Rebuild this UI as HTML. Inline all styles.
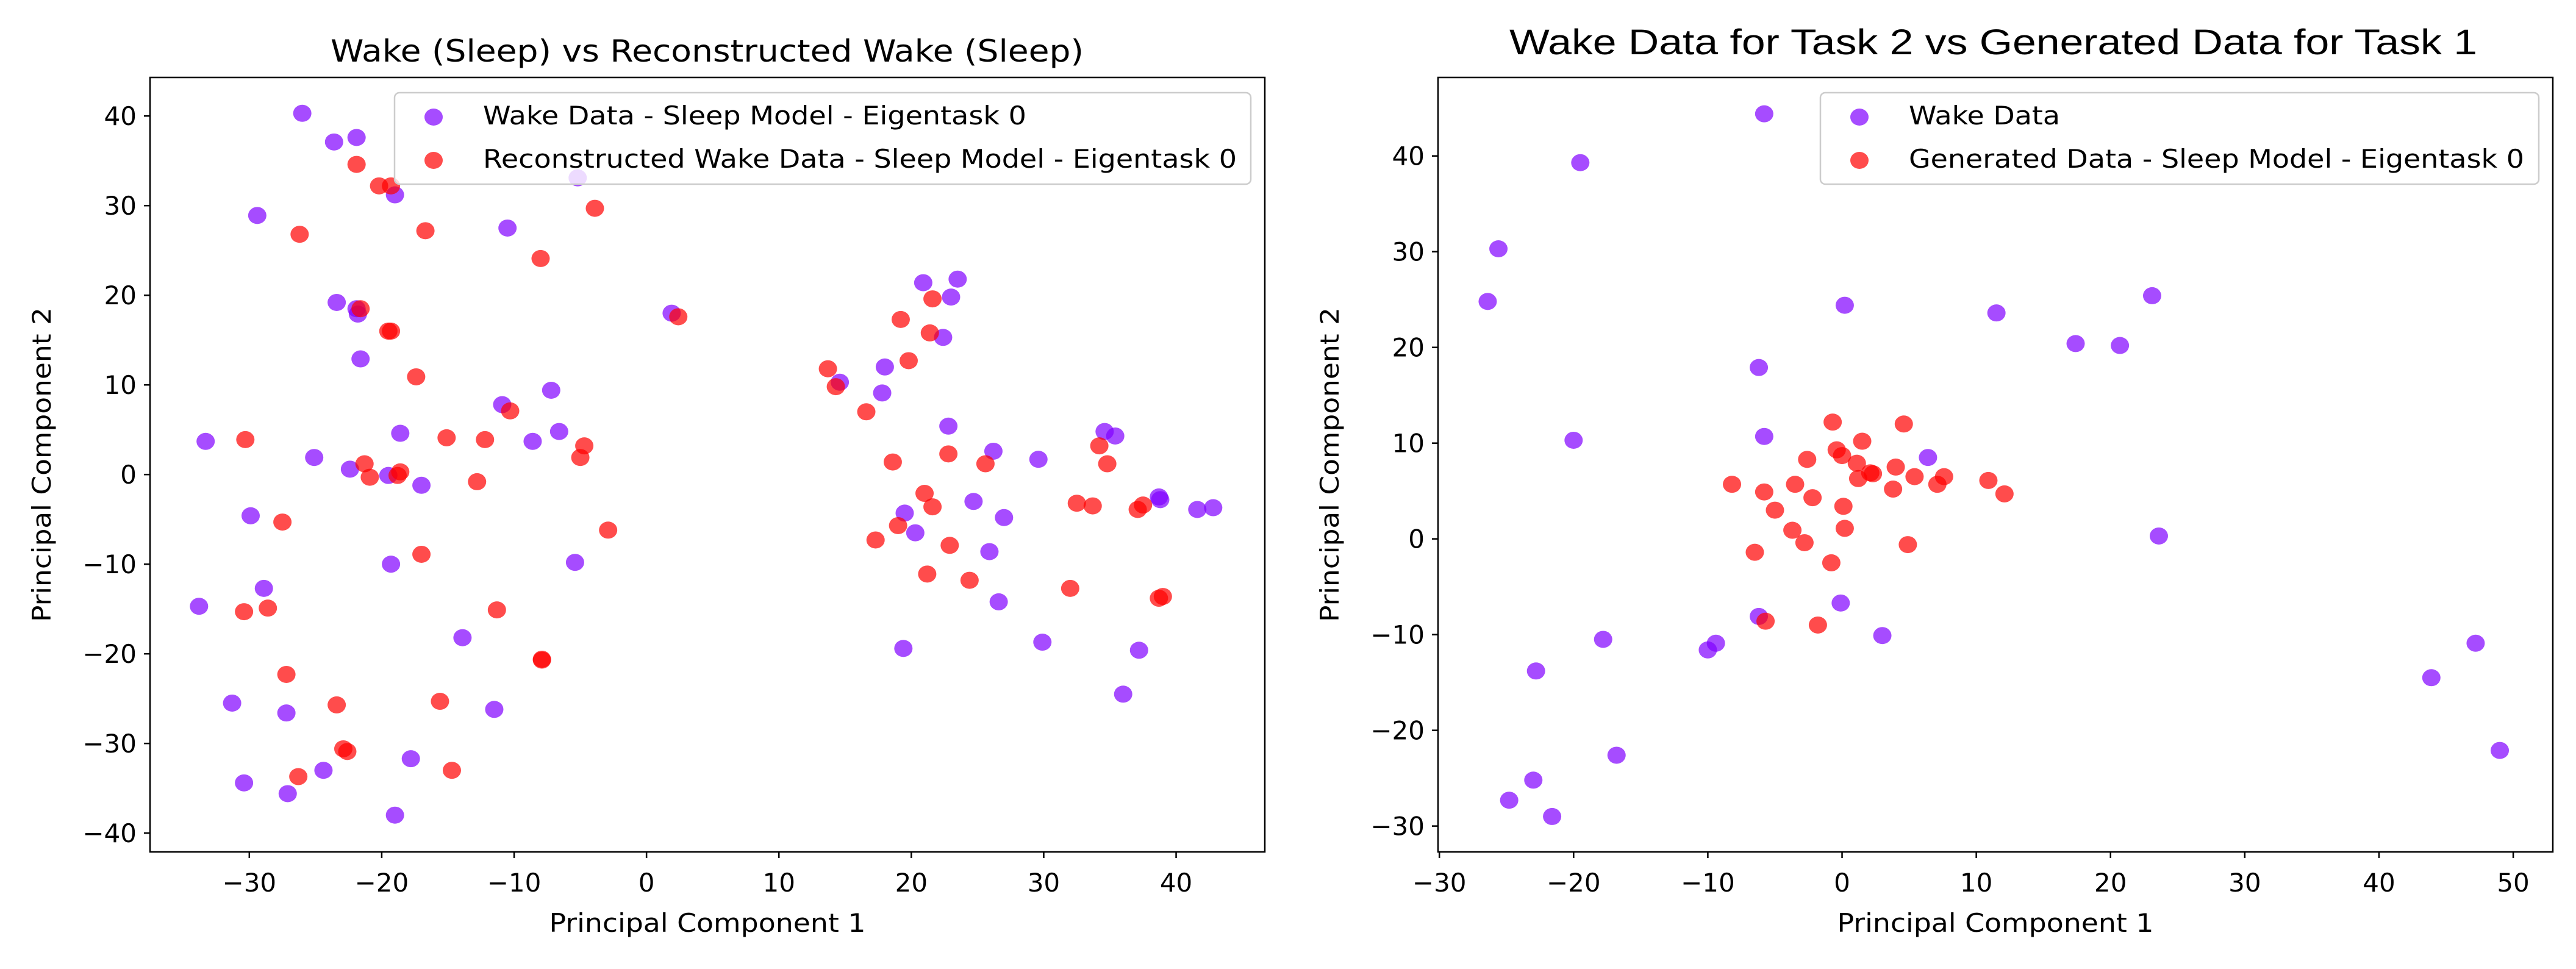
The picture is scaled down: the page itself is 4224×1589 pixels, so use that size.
<!DOCTYPE html>
<html><head><meta charset="utf-8"><style>
html,body{margin:0;padding:0;background:#fff;}
svg{display:block;}
text{font-family:"DejaVu Sans","Liberation Sans",sans-serif;fill:#000;}
</style></head><body>
<svg id="fig" width="4224" height="1589" viewBox="0 0 4224 1589" xmlns="http://www.w3.org/2000/svg"></svg>
<script>
// Left chart data
const leftWakeX=[-26.0,-23.6,-21.9,-19.0,-5.2,-29.4,-10.5,-23.4,-21.8,-21.9,-21.6,1.9,-10.9,-7.2,-18.6,-8.6,-6.6,-33.3,-25.1,-22.4,-19.5,-17.0,-29.9,-19.3,-5.4,-28.9,-33.8,-13.9,-11.5,-31.3,-27.2,-30.4,-24.4,-27.1,-17.8,-19.0,20.9,23.5,23.0,22.4,18.0,17.8,14.6,22.8,26.2,29.6,34.6,35.4,19.5,20.3,24.7,27.0,25.9,26.6,19.4,29.9,37.2,36.0,38.7,38.8,41.6,42.8];
const leftWakeY=[40.3,37.1,37.6,31.2,33.1,28.9,27.5,19.2,17.9,18.5,12.9,18.0,7.8,9.4,4.6,3.7,4.8,3.7,1.9,0.6,-0.1,-1.2,-4.6,-10.0,-9.8,-12.7,-14.7,-18.2,-26.2,-25.5,-26.6,-34.4,-33.0,-35.6,-31.7,-38.0,21.4,21.8,19.8,15.3,12.0,9.1,10.3,5.4,2.6,1.7,4.8,4.3,-4.3,-6.5,-3.0,-4.8,-8.6,-14.2,-19.4,-18.7,-19.6,-24.5,-2.5,-2.8,-3.9,-3.7];
const leftReconX=[-21.9,-20.2,-19.3,-3.9,-26.2,-16.7,-8.0,-21.6,-19.3,-19.5,2.4,-17.4,-10.3,-30.3,-15.1,-12.2,-4.7,-5.0,-21.3,-20.9,-18.8,-18.6,-12.8,-27.5,-2.9,-17.0,-30.4,-28.6,-11.3,-7.9,-7.9,-27.2,-23.4,-15.6,-22.9,-22.6,-26.3,-14.7,21.6,19.2,21.4,19.8,13.7,14.3,16.6,18.6,22.8,25.6,34.2,34.8,21.0,21.6,19.0,17.3,22.9,21.2,24.4,32.5,33.7,37.1,37.5,32.0,38.7,39.0];
const leftReconY=[34.6,32.2,32.2,29.7,26.8,27.2,24.1,18.5,16.0,16.0,17.6,10.9,7.1,3.9,4.1,3.9,3.2,1.9,1.2,-0.3,-0.1,0.3,-0.8,-5.3,-6.2,-8.9,-15.3,-14.9,-15.1,-20.7,-20.6,-22.3,-25.7,-25.3,-30.6,-30.9,-33.7,-33.0,19.6,17.3,15.8,12.7,11.8,9.8,7.0,1.4,2.3,1.2,3.2,1.2,-2.1,-3.6,-5.7,-7.3,-7.9,-11.1,-11.8,-3.2,-3.5,-3.9,-3.4,-12.7,-13.8,-13.6];
const leftXTicks=[-30,-20,-10,0,10,20,30,40];
const leftYTicks=[-40,-30,-20,-10,0,10,20,30,40];
// Right chart data
const rightWakeX=[-5.8,-19.5,-25.6,-26.4,0.2,11.5,23.1,17.4,20.7,-6.2,-20.0,-5.8,6.4,23.6,-0.1,-6.2,3.0,-17.8,-9.4,-10.0,-22.8,-16.8,-23.0,-24.8,-21.6,47.2,43.9,49.0];
const rightWakeY=[44.4,39.3,30.3,24.8,24.4,23.6,25.4,20.4,20.2,17.9,10.3,10.7,8.5,0.3,-6.7,-8.1,-10.1,-10.5,-10.9,-11.6,-13.8,-22.6,-25.2,-27.3,-29.0,-10.9,-14.5,-22.1];
const rightGenX=[-0.7,4.6,1.5,-2.6,-0.4,0.0,1.1,4.0,2.1,2.3,1.2,5.4,7.6,7.1,3.8,10.9,12.1,-8.2,-3.5,-5.8,-2.2,-5.0,0.1,-3.7,0.2,-2.8,4.9,-6.5,-0.8,-5.7,-1.8];
const rightGenY=[12.2,12.0,10.2,8.3,9.3,8.7,7.9,7.5,6.9,6.8,6.3,6.5,6.5,5.7,5.2,6.1,4.7,5.7,5.7,4.9,4.3,3.0,3.4,0.9,1.1,-0.4,-0.6,-1.4,-2.5,-8.6,-9.0];
const rightXTicks=[-30,-20,-10,0,10,20,30,40,50];
const rightYTicks=[-30,-20,-10,0,10,20,30,40];

const NS='http://www.w3.org/2000/svg';
const svg=document.getElementById('fig');
function mk(tag,attrs,parent){const e=document.createElementNS(NS,tag);for(const k in attrs)e.setAttribute(k,attrs[k]);(parent||svg).appendChild(e);return e;}
function fmt(v){return v<0?'\u2212'+Math.abs(v):String(v);}

function chart(cfg){
  const g=mk('g',{});
  
  
  const L=cfg.box[0],R=cfg.box[1],T=127,B=1397;
  const sx=v=>L+(v-cfg.xlim[0])/(cfg.xlim[1]-cfg.xlim[0])*(R-L);
  const sy=v=>B-(v-cfg.ylim[0])/(cfg.ylim[1]-cfg.ylim[0])*(B-T);
  // title
  const t=mk('text',{x:cfg.titleX,y:cfg.titleY,'font-size':cfg.titleSize,textLength:cfg.titleW,lengthAdjust:'spacingAndGlyphs'},g);
  if(cfg.titleFont)t.setAttribute('style','font-family:'+cfg.titleFont);
  t.textContent=cfg.title;
  
  
  // points
  const pg=mk('g',{},g);
  
  
  cfg.series.forEach(s=>{
    for(let i=0;i<s.x.length;i++){
      const c=mk('ellipse',{cx:sx(s.x[i]),cy:sy(s.y[i]),rx:15,ry:14,fill:s.color,'fill-opacity':0.7},pg);
      
      
    }
  });
  // frame
  const f=mk('rect',{x:L,y:T,width:R-L,height:B-T,fill:'none',stroke:'#000','stroke-width':2.5},g);
  
  
  // x ticks
  cfg.xticks.forEach(v=>{
    const x=sx(v);
    mk('line',{x1:x,x2:x,y1:B,y2:B+10,stroke:'#000','stroke-width':2.5},g);
    const tx=mk('text',{x:x,y:1462,'font-size':42,'text-anchor':'middle'},g);
    tx.textContent=fmt(v);
    
    
  });
  cfg.yticks.forEach(v=>{
    const y=sy(v);
    mk('line',{x1:L-10,x2:L,y1:y,y2:y,stroke:'#000','stroke-width':2.5},g);
    const ty=mk('text',{x:L-22,y:y+15,'font-size':42,'text-anchor':'end'},g);
    ty.textContent=fmt(v);
    
    
  });
  const xl=mk('text',{x:(L+R)/2,y:1528,'font-size':42,'text-anchor':'middle',textLength:519,lengthAdjust:'spacingAndGlyphs'},g);
  xl.textContent='Principal Component 1';
  
  
  const yx=cfg.box[0]-178+15, yc=(T+B)/2;
  const yl=mk('text',{x:yx,y:yc,'font-size':42,'text-anchor':'middle',transform:'rotate(-90 '+yx+' '+yc+')',textLength:516,lengthAdjust:'spacingAndGlyphs'},g);
  yl.textContent='Principal Component 2';
  
  
  // legend
  const lg=mk('g',{},g);
  
  
  mk('rect',{x:cfg.leg[0],y:152,width:cfg.leg[1]-cfg.leg[0],height:150,rx:8,fill:'#fff','fill-opacity':0.8,stroke:'#ccc','stroke-width':2.5},lg);
  cfg.series.forEach((s,i)=>{
    const yy=i?263:192;
    const m=mk('ellipse',{cx:cfg.leg[0]+64,cy:yy,rx:15,ry:14,fill:s.color,'fill-opacity':0.7},lg);
    
    
    const lt=mk('text',{x:cfg.leg[0]+145,y:yy+12,'font-size':42,textLength:s.lw,lengthAdjust:'spacingAndGlyphs'},lg);
    lt.textContent=s.label;
    
    
  });
}

chart({name:'left-chart',box:[246,2074],xlim:[-37.5,46.7],ylim:[-42.1,44.3],
  xticks:leftXTicks,yticks:leftYTicks,
  title:'Wake (Sleep) vs Reconstructed Wake (Sleep)',titleX:542,titleY:101,titleSize:50,titleW:1235,
  leg:[647,2051],
  series:[
    {x:leftWakeX,y:leftWakeY,color:'#8000ff',pname:'wake-point',label:'Wake Data - Sleep Model - Eigentask 0',lw:891},
    {x:leftReconX,y:leftReconY,color:'#ff0000',pname:'reconstructed-point',label:'Reconstructed Wake Data - Sleep Model - Eigentask 0',lw:1236}
  ]});
chart({name:'right-chart',box:[2358,4186],xlim:[-30.1,52.95],ylim:[-32.7,48.2],
  xticks:rightXTicks,yticks:rightYTicks,
  title:'Wake Data for Task 2 vs Generated Data for Task 1',titleX:2475,titleY:89,titleSize:58,titleW:1587,titleFont:'"Liberation Sans",sans-serif',
  leg:[2985,4163],
  series:[
    {x:rightWakeX,y:rightWakeY,color:'#8000ff',pname:'wake-point',label:'Wake Data',lw:248},
    {x:rightGenX,y:rightGenY,color:'#ff0000',pname:'generated-point',label:'Generated Data - Sleep Model - Eigentask 0',lw:1009}
  ]});
</script>
</body></html>
